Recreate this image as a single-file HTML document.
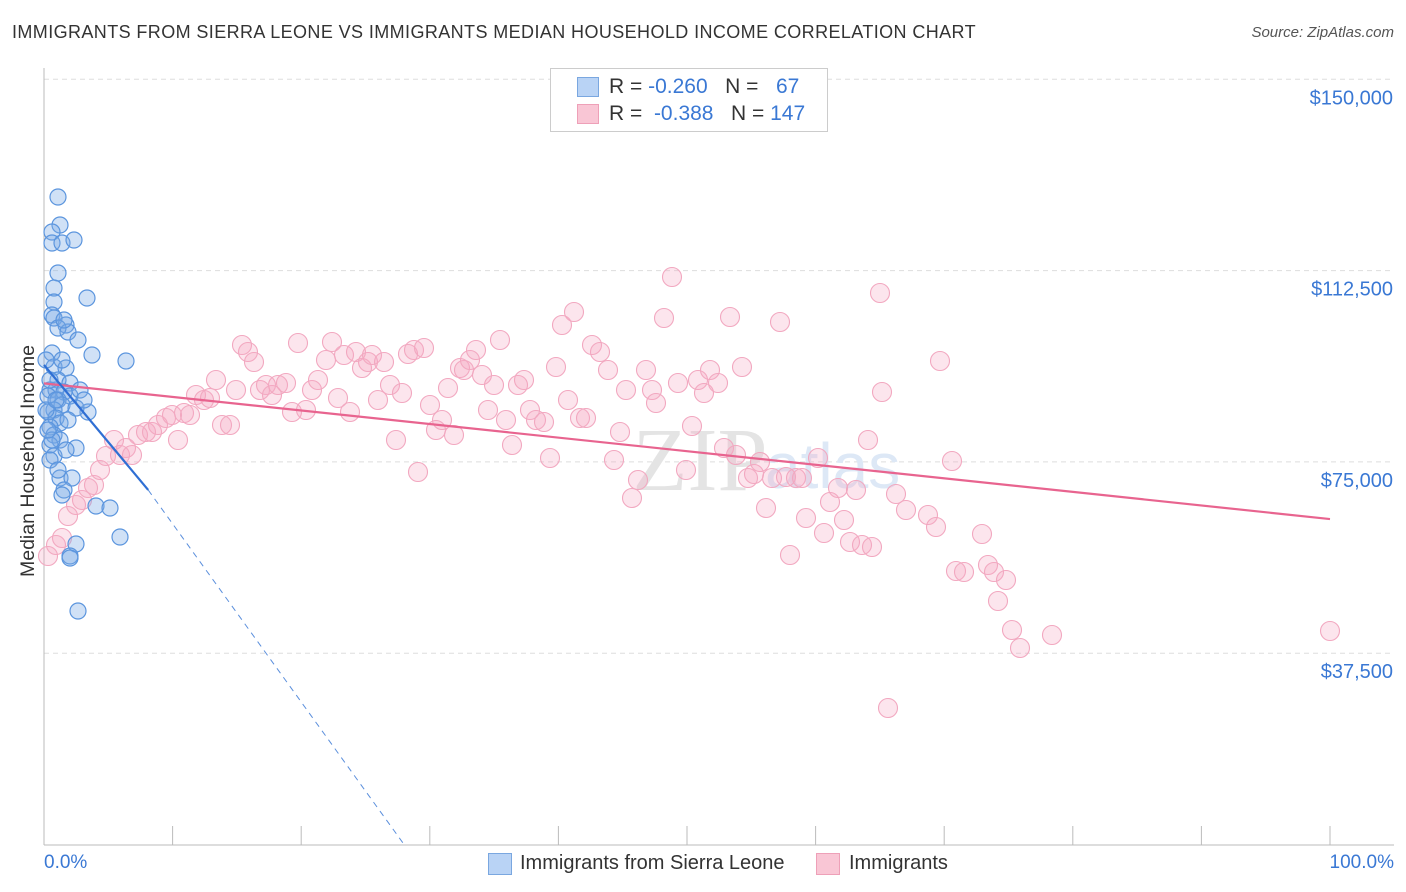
<!DOCTYPE html>
<html><head><meta charset="utf-8"><style>
body{margin:0;background:#fff;font-family:"Liberation Sans",sans-serif;}
#wrap{position:relative;width:1406px;height:892px;overflow:hidden;}
.t{position:absolute;white-space:nowrap;}
</style></head><body><div id="wrap">
<div class="t" style="left:12px;top:22px;font-size:18px;letter-spacing:0.4px;color:#333;">IMMIGRANTS FROM SIERRA LEONE VS IMMIGRANTS MEDIAN HOUSEHOLD INCOME CORRELATION CHART</div>
<div class="t" style="right:12px;top:24px;font-size:15px;color:#555;font-style:italic;">Source: ZipAtlas.com</div>
<svg id="svg" width="1406" height="892" style="position:absolute;left:0;top:0"></svg>
<div class="t" style="left:550px;top:68px;width:276px;height:62px;border:1px solid #ccc;background:#fff;">
 <div style="position:absolute;left:26px;top:8px;width:20px;height:18px;background:#b9d3f5;border:1px solid #7aa7e0"></div>
 <div style="position:absolute;left:26px;top:35px;width:20px;height:18px;background:#f9c6d5;border:1px solid #eea0b8"></div>
 <div class="t" style="left:58px;top:6px;font-size:21px;color:#333">R = <span style="color:#3a78d4">-0.260</span>&nbsp;&nbsp;&nbsp;N = &nbsp;&nbsp;<span style="color:#3a78d4">67</span></div>
 <div class="t" style="left:58px;top:33px;font-size:21px;color:#333">R = &nbsp;<span style="color:#3a78d4">-0.388</span>&nbsp;&nbsp;&nbsp;N = <span style="color:#3a78d4">147</span></div>
</div>
<div class="t" style="left:17px;top:577px;font-size:19.5px;color:#333;transform:rotate(-90deg);transform-origin:0 0;">Median Household Income</div>
<div class="t" style="left:44px;top:852px;font-size:19px;color:#3a78d4">0.0%</div>
<div class="t" style="right:12px;top:852px;font-size:19px;color:#3a78d4">100.0%</div>
<div class="t" style="left:488px;top:853px;width:22px;height:20px;background:#b9d3f5;border:1px solid #7aa7e0"></div>
<div class="t" style="left:520px;top:852px;font-size:20px;color:#333">Immigrants from Sierra Leone</div>
<div class="t" style="left:816px;top:853px;width:22px;height:20px;background:#f9c6d5;border:1px solid #eea0b8"></div>
<div class="t" style="left:849px;top:852px;font-size:20px;color:#333">Immigrants</div>
</div>
<script>
const yTicks=[37500,75000,112500,150000];
const yTickLabels=["$37,500","$75,000","$112,500","$150,000"];
const xTicks=[0,10,20,30,40,50,60,70,80,90,100];
const bluePx=[[58,197],[60,225],[52,232],[52,243],[62,243],[74,240],[58,273],[54,288],[87,298],[54,302],[52,315],[54,318],[66,325],[58,328],[68,332],[78,340],[92,355],[126,361],[52,353],[54,367],[66,368],[58,380],[70,383],[50,390],[56,390],[64,392],[70,396],[48,396],[58,400],[62,405],[54,410],[88,412],[48,412],[76,408],[56,418],[60,423],[50,427],[54,435],[60,440],[50,445],[52,440],[76,448],[54,456],[50,460],[60,478],[72,478],[64,490],[62,495],[96,506],[110,508],[120,537],[76,544],[70,556],[70,558],[78,611],[64,320],[46,410],[56,400],[46,360],[68,420],[66,450],[58,470],[50,380],[80,390],[84,400],[62,360],[48,430]];
const pinkPx=[[48,556],[56,545],[62,538],[68,516],[76,505],[82,500],[88,488],[94,485],[100,470],[106,456],[114,440],[120,455],[126,448],[132,455],[138,435],[146,432],[152,432],[158,425],[166,418],[172,415],[178,440],[184,413],[190,415],[196,395],[204,400],[210,398],[216,380],[222,425],[230,425],[236,390],[242,345],[248,352],[254,362],[260,390],[266,385],[272,395],[278,385],[286,383],[292,412],[298,343],[306,410],[312,390],[318,380],[326,360],[332,342],[338,398],[344,355],[350,412],[356,352],[362,368],[368,362],[372,355],[378,400],[384,362],[390,385],[396,440],[402,393],[408,354],[414,350],[418,472],[424,348],[430,405],[436,430],[442,420],[448,388],[454,435],[460,368],[464,370],[470,360],[476,350],[482,375],[488,410],[494,385],[500,340],[506,420],[512,445],[518,385],[524,380],[530,410],[536,420],[544,422],[550,458],[556,367],[562,325],[568,400],[574,312],[580,418],[586,418],[592,345],[600,352],[608,370],[614,460],[620,432],[626,390],[632,498],[638,480],[646,370],[652,390],[656,403],[664,318],[672,277],[678,383],[686,470],[692,426],[698,380],[704,393],[710,370],[718,383],[724,448],[730,317],[736,455],[742,367],[748,478],[754,474],[760,462],[766,508],[772,478],[780,322],[786,477],[790,555],[796,478],[802,478],[806,518],[818,458],[824,533],[830,502],[838,488],[844,520],[850,542],[856,490],[862,545],[868,440],[872,547],[880,293],[882,392],[888,708],[896,494],[906,510],[928,515],[936,527],[940,361],[952,461],[956,571],[964,572],[982,534],[988,565],[994,572],[998,601],[1006,580],[1012,630],[1020,648],[1052,635],[1330,631]];
const blueX=bluePx.map(p=>(p[0]-44)/12.86), blueY=bluePx.map(p=>(844.5-p[1])*196.03);
const pinkX=pinkPx.map(p=>(p[0]-44)/12.86), pinkY=pinkPx.map(p=>(844.5-p[1])*196.03);
const blueTrend=[[0,94000],[8.1,69500],[28,0]];
const pinkTrend=[[0,90400],[100,63800]];
const X=v=>44+v*12.86, Y=v=>844.5-v/196.03;
const svg=document.getElementById('svg'),NS='http://www.w3.org/2000/svg';
function mk(t,a,p){const e=document.createElementNS(NS,t);for(const k in a)e.setAttribute(k,a[k]);(p||svg).appendChild(e);return e;}
yTicks.forEach((v,i)=>{
 const g=mk('line',{x1:44,x2:1394,y1:Y(v),y2:Y(v),stroke:'#ddd','stroke-dasharray':'5,4'});
 
 
 const t=mk('text',{x:1393,y:Y(v)+25,'text-anchor':'end','font-size':20,fill:'#3a78d4','font-family':'Liberation Sans, sans-serif'});
 t.textContent=yTickLabels[i];
 
 
});
const ax=mk('line',{x1:44,x2:1394,y1:845,y2:845,stroke:'#bbb'});


const ay=mk('line',{x1:44,x2:44,y1:68,y2:845,stroke:'#bbb'});


xTicks.forEach(v=>{const l=mk('line',{x1:X(v),x2:X(v),y1:826,y2:845,stroke:'#bbb'});
 
 });
const wm=mk('text',{x:700,y:490,'text-anchor':'middle','font-size':90,fill:'#e4e4e4','font-family':'Liberation Serif, serif'});
wm.textContent='ZIP';


const wm2=mk('text',{x:765,y:488,'font-size':64,fill:'#dde8f6','font-family':'Liberation Sans, sans-serif'});
wm2.textContent='atlas';


pinkX.forEach((x,i)=>{const c=mk('circle',{cx:X(x),cy:Y(pinkY[i]),r:9.5,fill:'rgba(246,170,195,0.3)',stroke:'#f2a8c0','stroke-width':1.1});
 
 });
blueX.forEach((x,i)=>{const c=mk('circle',{cx:X(x),cy:Y(blueY[i]),r:8,fill:'rgba(120,170,230,0.35)',stroke:'#5b95de','stroke-width':1.2});
 
 });
const pl=mk('line',{x1:X(pinkTrend[0][0]),y1:Y(pinkTrend[0][1]),x2:X(pinkTrend[1][0]),y2:Y(pinkTrend[1][1]),stroke:'#e8648f','stroke-width':2.2});


const bl=mk('line',{x1:X(blueTrend[0][0]),y1:Y(blueTrend[0][1]),x2:X(blueTrend[1][0]),y2:Y(blueTrend[1][1]),stroke:'#2f6fd4','stroke-width':2.2});


const bd=mk('line',{x1:X(blueTrend[1][0]),y1:Y(blueTrend[1][1]),x2:X(blueTrend[2][0]),y2:Y(blueTrend[2][1]),stroke:'#5b8fdc','stroke-width':1,'stroke-dasharray':'6,5'});


</script></body></html>
